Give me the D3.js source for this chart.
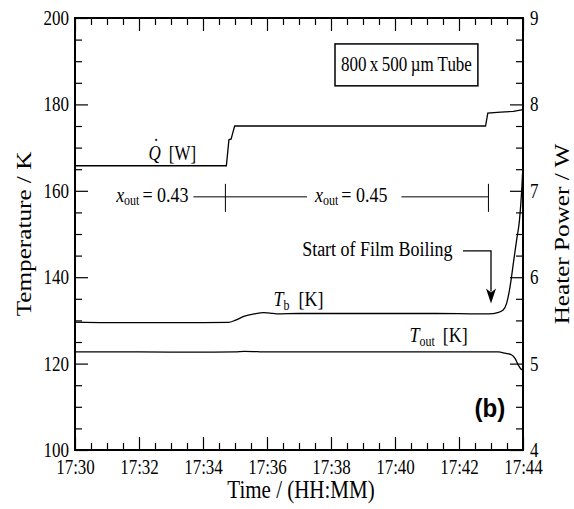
<!DOCTYPE html>
<html><head><meta charset="utf-8">
<script src="https://cdn.jsdelivr.net/npm/d3@7"></script>
<style>
body{margin:0;background:#fff}
svg text{font-family:"Liberation Serif","Times New Roman",serif;fill:#000}
</style>
</head><body>
<svg id="c" width="574" height="509"></svg>
<script>
// ---------- data ----------
const xTickLabels = ["17:30","17:32","17:34","17:36","17:38","17:40","17:42","17:44"];
const tempTicks = [100,120,140,160,180,200];
const powerTicks = [4,5,6,7,8,9];

// time in minutes after 17:30
const tbTime  = [0, 1, 2, 3, 4, 4.8, 5.0, 5.3, 5.6, 5.9, 6.1, 6.3, 7, 8, 9, 10, 11, 12, 12.8, 13.06, 13.2, 13.38, 13.49, 13.56, 13.63, 13.70, 13.80, 13.89, 13.96, 14.0];
const tbValue = [129.6, 129.5, 129.5, 129.5, 129.5, 129.55, 130.0, 131.0, 131.5, 131.8, 131.7, 131.5, 131.6, 131.6, 131.6, 131.6, 131.6, 131.55, 131.5, 131.55, 131.8, 132.4, 134.0, 136.3, 139.5, 143.3, 148.6, 153.2, 160.2, 166.0];

const toutTime  = [0, 2, 4, 5.0, 5.3, 5.7, 6, 8, 10, 12, 13.23, 13.44, 13.65, 13.75, 13.85, 13.96, 14.0];
const toutValue = [122.7, 122.7, 122.65, 122.7, 122.85, 122.75, 122.7, 122.7, 122.7, 122.7, 122.7, 122.4, 122.0, 121.2, 119.7, 118.6, 118.5];

const qTime  = [0, 4.73, 4.81, 4.88, 4.93, 4.99, 6, 8, 10, 12, 12.83, 12.90, 13.3, 13.7, 14.0];
const qValue = [7.29, 7.29, 7.59, 7.60, 7.67, 7.75, 7.75, 7.75, 7.75, 7.75, 7.75, 7.90, 7.91, 7.92, 7.94];

// ---------- setup ----------
const svg = d3.select("#c");
const W = 574, H = 509;
const m = {l:75, r:51, t:18, b:59};
const S = 1.2; // vertical stretch of glyphs in the original figure
const parse = d3.timeParse("%H:%M");
const t0 = parse(xTickLabels[0]);
const tm = mins => new Date(t0.getTime() + mins*60000);

const x = d3.scaleTime().domain([parse(xTickLabels[0]), parse(xTickLabels[xTickLabels.length-1])]).range([m.l, W-m.r]);
const yL = d3.scaleLinear().domain([100,200]).range([H-m.b, m.t]);
const yR = d3.scaleLinear().domain([4,9]).range([H-m.b, m.t]);

svg.append("rect").attr("width",W).attr("height",H).attr("fill","#fff");

const majorLen = 13, minorLen = 7;
const fontTick = 17;

function styleAxis(g){
  g.select(".domain").remove();
  g.selectAll("line").attr("stroke","#000").attr("stroke-width",1.2);
  g.selectAll("text").style("font-size",fontTick+"px").style("font-family",'"Liberation Serif",serif')
    .attr("transform",`scale(1,${S})`);
}

// x axes
const xMajor = xTickLabels.map(parse);
const xMinor = d3.timeSecond.every(30).range(x.domain()[0], new Date(x.domain()[1].getTime()+1)).filter(d=>d.getMinutes()%2!==0 || d.getSeconds()!==0);

svg.append("g").attr("transform",`translate(0,${H-m.b})`)
  .call(d3.axisBottom(x).tickValues(xMajor).tickFormat(d3.timeFormat("%H:%M")).tickSize(-majorLen).tickPadding(8))
  .call(styleAxis);
svg.append("g").attr("transform",`translate(0,${H-m.b})`)
  .call(d3.axisBottom(x).tickValues(xMinor).tickFormat("").tickSize(-minorLen))
  .call(styleAxis);
svg.append("g").attr("transform",`translate(0,${m.t})`)
  .call(d3.axisTop(x).tickValues(xMajor).tickFormat("").tickSize(-majorLen))
  .call(styleAxis);
svg.append("g").attr("transform",`translate(0,${m.t})`)
  .call(d3.axisTop(x).tickValues(xMinor).tickFormat("").tickSize(-minorLen))
  .call(styleAxis);

// left axis
svg.append("g").attr("transform",`translate(${m.l},0)`)
  .call(d3.axisLeft(yL).tickValues(tempTicks).tickFormat(d3.format("d")).tickSize(-majorLen).tickPadding(6))
  .call(styleAxis);
svg.append("g").attr("transform",`translate(${m.l},0)`)
  .call(d3.axisLeft(yL).tickValues(d3.range(100,201,5).filter(v=>v%20!==0)).tickFormat("").tickSize(-minorLen))
  .call(styleAxis);

// right axis
svg.append("g").attr("transform",`translate(${W-m.r},0)`)
  .call(d3.axisRight(yR).tickValues(powerTicks).tickFormat(d3.format("d")).tickSize(-majorLen).tickPadding(7))
  .call(styleAxis);
svg.append("g").attr("transform",`translate(${W-m.r},0)`)
  .call(d3.axisRight(yR).tickValues(d3.range(4,9.01,0.25).filter(v=>Math.abs(v-Math.round(v))>1e-6)).tickFormat("").tickSize(-minorLen))
  .call(styleAxis);

// frame
svg.append("rect").attr("x",m.l).attr("y",m.t).attr("width",W-m.l-m.r).attr("height",H-m.t-m.b)
  .attr("fill","none").attr("stroke","#000").attr("stroke-width",2);

// clip
svg.append("clipPath").attr("id","clip").append("rect")
  .attr("x",m.l).attr("y",m.t).attr("width",W-m.l-m.r).attr("height",H-m.t-m.b);

const plot = svg.append("g").attr("clip-path","url(#clip)");
const lineL = d3.line().x(d=>x(tm(d[0]))).y(d=>yL(d[1]));
const lineR = d3.line().x(d=>x(tm(d[0]))).y(d=>yR(d[1]));

plot.append("path").datum(d3.zip(tbTime,tbValue)).attr("d",lineL.curve(d3.curveMonotoneX))
  .attr("fill","none").attr("stroke","#000").attr("stroke-width",1.3);
plot.append("path").datum(d3.zip(toutTime,toutValue)).attr("d",lineL.curve(d3.curveMonotoneX))
  .attr("fill","none").attr("stroke","#000").attr("stroke-width",1.3);
plot.append("path").datum(d3.zip(qTime,qValue)).attr("d",lineR.curve(d3.curveLinear))
  .attr("fill","none").attr("stroke","#000").attr("stroke-width",1.3);

// ---------- annotations ----------
const ann = svg.append("g");
// horizontal text with stretched glyphs
function htext(px, py, size, anchor, sx){
  return ann.append("text").attr("transform",`translate(${px},${py}) scale(${sx||1},${S})`)
    .attr("text-anchor",anchor||"start").style("font-size",size+"px");
}

// box
const bx0 = x(tm(8.125)), bx1 = x(tm(12.59)), by0 = yL(194), by1 = yL(184.3);
ann.append("rect").attr("x",bx0).attr("y",by0).attr("width",bx1-bx0).attr("height",by1-by0)
  .attr("fill","#fff").attr("stroke","#000").attr("stroke-width",1.5);
htext((bx0+bx1)/2, (by0+by1)/2+6, 17, "middle").text("800\u2009x\u2009500\u2009\u00b5m Tube");

// Q label
const qx = x(tm(2.3)), qy = yR(7.29)-6;
const qt = htext(qx, qy, 17);
qt.append("tspan").style("font-style","italic").text("Q");
qt.append("tspan").attr("dx",8).text("[W]");
htext(qx+7.5, qy-7, 17, "middle").text("\u02d9");

// x_out bracket
const bY = yL(158.6);
const v1 = x(tm(4.70)), v2 = x(tm(12.92));
function xoutLabel(xp, anchor, val){
  const tt = htext(xp, bY+5, 18, anchor);
  tt.append("tspan").style("font-style","italic").text("x");
  tt.append("tspan").attr("dy",3).style("font-size","12px").text("out");
  tt.append("tspan").attr("dy",-3).attr("dx",3).text("= "+val);
}
xoutLabel(x(tm(3.55)),"end","0.43");
xoutLabel(x(tm(7.5)),"start","0.45");
ann.append("line").attr("x1",x(tm(3.7))).attr("x2",x(tm(7.25))).attr("y1",bY).attr("y2",bY).attr("stroke","#000").attr("stroke-width",1);
ann.append("line").attr("x1",x(tm(10.2))).attr("x2",v2).attr("y1",bY).attr("y2",bY).attr("stroke","#000").attr("stroke-width",1);
[v1,v2].forEach(v=>ann.append("line").attr("x1",v).attr("x2",v).attr("y1",bY-13).attr("y2",bY+15).attr("stroke","#000").attr("stroke-width",1));

// Start of film boiling
const fy = yL(146.1);
htext(x(tm(11.8)), fy+5, 18, "end").text("Start of Film Boiling");
const ax0 = x(tm(12.125)), ax1 = x(tm(13.0)), tipY = yL(133.9);
ann.append("path").attr("d",`M${ax0},${fy}H${ax1}V${tipY-12}`).attr("fill","none").attr("stroke","#000").attr("stroke-width",1.3);
ann.append("path").attr("d",`M${ax1-5},${tipY-15}L${ax1},${tipY}L${ax1+5},${tipY-15}L${ax1},${tipY-11}Z`).attr("fill","#000");

// Tb label
const tbl = htext(x(tm(6.2)), yL(133.3), 18);
tbl.append("tspan").style("font-style","italic").text("T");
tbl.append("tspan").attr("dy",3).style("font-size","12px").text("b");
tbl.append("tspan").attr("dy",-3).attr("dx",9).text("[K]");
// Tout label
const tol = htext(x(tm(10.45)), yL(124.9), 18);
tol.append("tspan").style("font-style","italic").text("T");
tol.append("tspan").attr("dy",3).style("font-size","12px").text("out");
tol.append("tspan").attr("dy",-3).attr("dx",8).text("[K]");

// (b)
htext(x(tm(13.45)), yL(107.7), 21, "end", 1.15)
  .style("font-family",'"Liberation Sans",Arial,sans-serif').style("font-weight","bold").text("(b)");

// axis titles (glyphs stretched along the vertical direction)
svg.append("text").attr("transform",`translate(31,${(m.t+H-m.b)/2}) rotate(-90) scale(${S},1)`).attr("text-anchor","middle")
  .style("font-size","21px").text("Temperature / K");
svg.append("text").attr("transform",`translate(569,${(m.t+H-m.b)/2}) rotate(-90) scale(${S},1)`).attr("text-anchor","middle")
  .style("font-size","21px").text("Heater Power / W");
svg.append("text").attr("transform",`translate(${(m.l+W-m.r)/2+2},498) scale(1,${S})`).attr("text-anchor","middle")
  .style("font-size","21px").text("Time / (HH:MM)");
</script>
</body></html>
